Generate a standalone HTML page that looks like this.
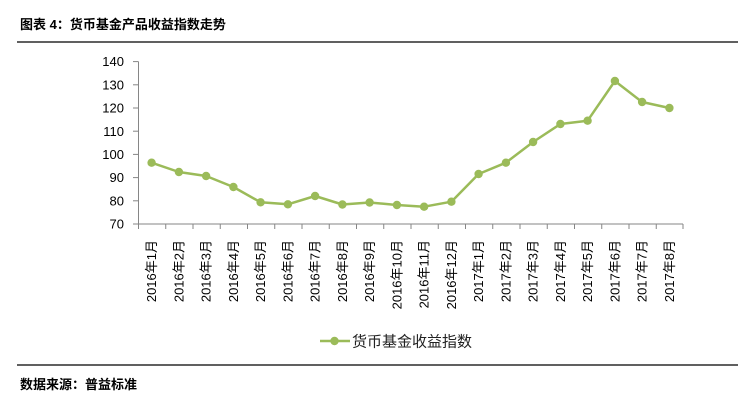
<!DOCTYPE html>
<html>
<head>
<meta charset="utf-8">
<style>
html,body{margin:0;padding:0;background:#fff;}
body{width:746px;height:400px;overflow:hidden;}
svg{display:block;}
</style>
</head>
<body>
<svg width="746" height="400" viewBox="0 0 746 400" xmlns="http://www.w3.org/2000/svg">
  <!-- Title -->
  <text x="20" y="29" font-family="'Liberation Sans','Noto Sans CJK SC',sans-serif" font-size="13" font-weight="bold" fill="#000">图表 4：货币基金产品收益指数走势</text>
  <line x1="17" y1="42" x2="738" y2="42" stroke="#000" stroke-width="1.3"/>

  <!-- Y axis -->
  <g stroke="#868686" stroke-width="1" fill="none">
    <line x1="138.5" y1="61.6" x2="138.5" y2="224"/>
    <line x1="133" y1="61.6" x2="138.5" y2="61.6"/>
    <line x1="133" y1="84.8" x2="138.5" y2="84.8"/>
    <line x1="133" y1="108" x2="138.5" y2="108"/>
    <line x1="133" y1="131.2" x2="138.5" y2="131.2"/>
    <line x1="133" y1="154.4" x2="138.5" y2="154.4"/>
    <line x1="133" y1="177.6" x2="138.5" y2="177.6"/>
    <line x1="133" y1="200.8" x2="138.5" y2="200.8"/>
    <line x1="133" y1="224" x2="138.5" y2="224"/>
    <!-- X axis -->
    <line x1="138" y1="224" x2="683" y2="224"/>
  </g>
  <g stroke="#868686" stroke-width="1">
    <line x1="138.5" y1="224" x2="138.5" y2="229"/>
    <line x1="165.75" y1="224" x2="165.75" y2="229"/>
    <line x1="193" y1="224" x2="193" y2="229"/>
    <line x1="220.25" y1="224" x2="220.25" y2="229"/>
    <line x1="247.5" y1="224" x2="247.5" y2="229"/>
    <line x1="274.75" y1="224" x2="274.75" y2="229"/>
    <line x1="302" y1="224" x2="302" y2="229"/>
    <line x1="329.25" y1="224" x2="329.25" y2="229"/>
    <line x1="356.5" y1="224" x2="356.5" y2="229"/>
    <line x1="383.75" y1="224" x2="383.75" y2="229"/>
    <line x1="411" y1="224" x2="411" y2="229"/>
    <line x1="438.25" y1="224" x2="438.25" y2="229"/>
    <line x1="465.5" y1="224" x2="465.5" y2="229"/>
    <line x1="492.75" y1="224" x2="492.75" y2="229"/>
    <line x1="520" y1="224" x2="520" y2="229"/>
    <line x1="547.25" y1="224" x2="547.25" y2="229"/>
    <line x1="574.5" y1="224" x2="574.5" y2="229"/>
    <line x1="601.75" y1="224" x2="601.75" y2="229"/>
    <line x1="629" y1="224" x2="629" y2="229"/>
    <line x1="656.25" y1="224" x2="656.25" y2="229"/>
    <line x1="683" y1="224" x2="683" y2="229"/>
  </g>

  <!-- Y labels -->
  <g font-family="'Liberation Sans',sans-serif" font-size="13" fill="#000" text-anchor="end">
    <text x="124" y="66.2">140</text>
    <text x="124" y="89.4">130</text>
    <text x="124" y="112.6">120</text>
    <text x="124" y="135.8">110</text>
    <text x="124" y="159">100</text>
    <text x="124" y="182.2">90</text>
    <text x="124" y="205.4">80</text>
    <text x="124" y="228.6">70</text>
  </g>

  <!-- X labels -->
  <g font-family="'Liberation Sans','Noto Sans CJK SC',sans-serif" font-size="13" fill="#000" text-anchor="end">
    <text transform="translate(156.1,240) rotate(-90)">2016年1月</text>
    <text transform="translate(183.4,240) rotate(-90)">2016年2月</text>
    <text transform="translate(210.6,240) rotate(-90)">2016年3月</text>
    <text transform="translate(237.9,240) rotate(-90)">2016年4月</text>
    <text transform="translate(265.1,240) rotate(-90)">2016年5月</text>
    <text transform="translate(292.4,240) rotate(-90)">2016年6月</text>
    <text transform="translate(319.6,240) rotate(-90)">2016年7月</text>
    <text transform="translate(346.9,240) rotate(-90)">2016年8月</text>
    <text transform="translate(374.1,240) rotate(-90)">2016年9月</text>
    <text transform="translate(401.4,240) rotate(-90)">2016年10月</text>
    <text transform="translate(428.6,240) rotate(-90)">2016年11月</text>
    <text transform="translate(455.9,240) rotate(-90)">2016年12月</text>
    <text transform="translate(483.1,240) rotate(-90)">2017年1月</text>
    <text transform="translate(510.4,240) rotate(-90)">2017年2月</text>
    <text transform="translate(537.6,240) rotate(-90)">2017年3月</text>
    <text transform="translate(564.9,240) rotate(-90)">2017年4月</text>
    <text transform="translate(592.1,240) rotate(-90)">2017年5月</text>
    <text transform="translate(619.4,240) rotate(-90)">2017年6月</text>
    <text transform="translate(646.6,240) rotate(-90)">2017年7月</text>
    <text transform="translate(673.9,240) rotate(-90)">2017年8月</text>
  </g>

  <!-- Series -->
  <polyline fill="none" stroke="#9BBB59" stroke-width="2.5" stroke-linejoin="round"
    points="151.6,162.7 178.9,172 206.1,176 233.4,187 260.6,202.3 287.9,204.3 315.1,196 342.4,204.5 369.6,202.5 396.9,205 424.1,206.7 451.4,201.7 478.6,174 505.9,162.7 533.1,142 560.4,124 587.6,120.7 614.9,81 642.1,102 669.4,108"/>
  <g fill="#9BBB59">
    <circle cx="151.6" cy="162.7" r="4.2"/>
    <circle cx="178.9" cy="172" r="4.2"/>
    <circle cx="206.1" cy="176" r="4.2"/>
    <circle cx="233.4" cy="187" r="4.2"/>
    <circle cx="260.6" cy="202.3" r="4.2"/>
    <circle cx="287.9" cy="204.3" r="4.2"/>
    <circle cx="315.1" cy="196" r="4.2"/>
    <circle cx="342.4" cy="204.5" r="4.2"/>
    <circle cx="369.6" cy="202.5" r="4.2"/>
    <circle cx="396.9" cy="205" r="4.2"/>
    <circle cx="424.1" cy="206.7" r="4.2"/>
    <circle cx="451.4" cy="201.7" r="4.2"/>
    <circle cx="478.6" cy="174" r="4.2"/>
    <circle cx="505.9" cy="162.7" r="4.2"/>
    <circle cx="533.1" cy="142" r="4.2"/>
    <circle cx="560.4" cy="124" r="4.2"/>
    <circle cx="587.6" cy="120.7" r="4.2"/>
    <circle cx="614.9" cy="81" r="4.2"/>
    <circle cx="642.1" cy="102" r="4.2"/>
    <circle cx="669.4" cy="108" r="4.2"/>
  </g>

  <!-- Legend -->
  <line x1="320" y1="341" x2="350" y2="341" stroke="#9BBB59" stroke-width="2.5"/>
  <circle cx="334.5" cy="341" r="4.2" fill="#9BBB59"/>
  <text x="352" y="346.5" font-family="'Liberation Sans','Noto Sans CJK SC',sans-serif" font-size="15" fill="#222">货币基金收益指数</text>

  <!-- Bottom rule & source -->
  <line x1="17" y1="365" x2="738" y2="365" stroke="#000" stroke-width="1.3"/>
  <text x="20" y="389" font-family="'Liberation Sans','Noto Sans CJK SC',sans-serif" font-size="13" font-weight="bold" fill="#000">数据来源：普益标准</text>
</svg>
</body>
</html>
